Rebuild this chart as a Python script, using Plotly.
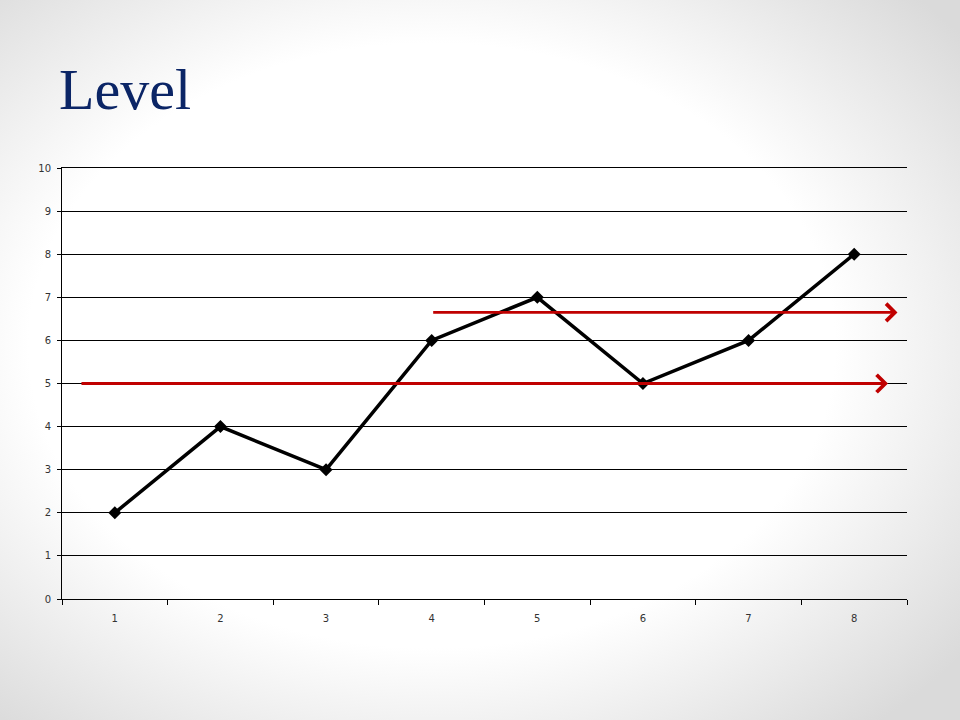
import base64
import plotly.graph_objects as go

# Data
categories = ["1", "2", "3", "4", "5", "6", "7", "8"]
values = [2, 4, 3, 6, 7, 5, 6, 8]
y_ticks = [0, 1, 2, 3, 4, 5, 6, 7, 8, 9, 10]
# Level arrows: (start category index, end category index, level)
level_arrows = [(-0.33, 7.32, 5.0), (3.0, 7.41, 6.65)]

W, H = 960, 720
L, R, T, B = 62, 53, 168, 121
pw, ph = W - L - R, H - T - B

svg = f'''<svg xmlns="http://www.w3.org/2000/svg" width="{W}" height="{H}" viewBox="0 0 {W} {H}">
<defs><radialGradient id="g" cx="45%" cy="48%" r="70%">
<stop offset="0" stop-color="#ffffff"/><stop offset="0.6" stop-color="#ffffff"/>
<stop offset="1" stop-color="#dadada"/></radialGradient></defs>
<rect width="{W}" height="{H}" fill="url(#g)"/></svg>'''
bg_src = "data:image/svg+xml;base64," + base64.b64encode(svg.encode()).decode()

fig = go.Figure()
fig.add_trace(go.Scatter(
    x=categories, y=values, mode="lines+markers",
    line=dict(color="black", width=3.5),
    marker=dict(symbol="diamond", size=10, color="black"),
    showlegend=False, cliponaxis=False,
))

for x0, x1, lvl in level_arrows:
    fig.add_annotation(
        x=x1, y=lvl, ax=x0, ay=lvl, xref="x", yref="y", axref="x", ayref="y",
        text="", showarrow=True, arrowhead=4, arrowsize=1.2, arrowwidth=2.8,
        arrowcolor="#c00000", standoff=0,
    )

fig.add_layout_image(dict(
    source=bg_src, xref="paper", yref="paper",
    x=-L / pw, y=1 + T / ph, sizex=W / pw, sizey=H / ph,
    xanchor="left", yanchor="top", sizing="stretch", layer="below",
))

fig.update_layout(
    width=W, height=H,
    margin=dict(l=L, r=R, t=T, b=B),
    paper_bgcolor="white", plot_bgcolor="rgba(0,0,0,0)",
    title=dict(text="Level", x=59 / W, xanchor="left", xref="container",
               y=1 - 89 / H, yanchor="middle", yref="container",
               font=dict(family="Liberation Serif", size=58, color="#0b2566")),
    font=dict(family="DejaVu Sans", size=10, color="#333333"),
)
fig.update_xaxes(
    type="category", range=[-0.5, 7.5], tickson="boundaries",
    ticks="outside", ticklen=5, tickcolor="black", tickwidth=1,
    showline=True, mirror=True, linecolor="black", linewidth=1, showgrid=False,
    tickfont=dict(size=10, color="#333333"), zeroline=False,
    ticklabelstandoff=10,
)
fig.update_yaxes(
    range=[0, 10], tickvals=y_ticks, ticks="outside", ticklen=4,
    tickcolor="black", showline=True, linecolor="black", linewidth=1,
    showgrid=True, gridcolor="black", gridwidth=1, zeroline=False,
    tickfont=dict(size=10, color="#333333"), ticklabelstandoff=4,
)

fig.write_html("out.html", config={"displayModeBar": False},
               post_script="document.body.style.margin='0';")
